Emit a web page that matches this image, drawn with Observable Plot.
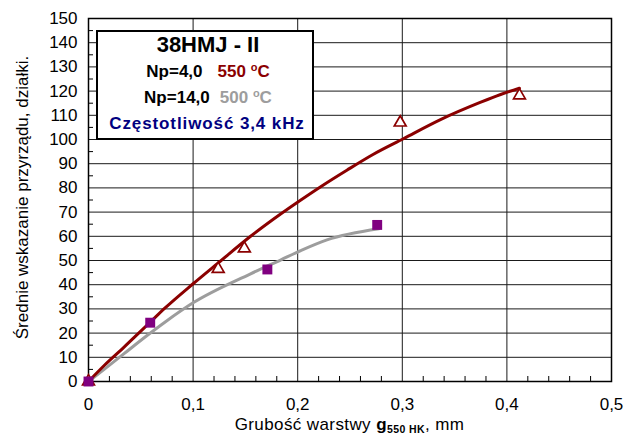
<!DOCTYPE html>
<html>
<head>
<meta charset="utf-8">
<script src="https://cdn.jsdelivr.net/npm/d3@7"></script>
<script src="https://cdn.jsdelivr.net/npm/@observablehq/plot@0.6"></script>
<style>
  body { margin: 0; background: #fff; }
  #chart svg { display: block; }
</style>
</head>
<body>
<div id="chart"></div>
<script>
// Axis ticks
const xTicks = [0, 0.1, 0.2, 0.3, 0.4, 0.5];
const yTicks = [0, 10, 20, 30, 40, 50, 60, 70, 80, 90, 100, 110, 120, 130, 140, 150];
const xMinor = [0.02, 0.04, 0.06, 0.08, 0.12, 0.14, 0.16, 0.18, 0.22, 0.24, 0.26, 0.28,
                0.32, 0.34, 0.36, 0.38, 0.42, 0.44, 0.46, 0.48];
const yMinor = [5, 15, 25, 35, 45, 55, 65, 75, 85, 95, 105, 115, 125, 135, 145];

// Measured curve, Np=4,0, 550 °C
const redX = [0, 0.015, 0.034, 0.05, 0.059, 0.073, 0.1, 0.124, 0.155, 0.184, 0.203,
              0.222, 0.247, 0.272, 0.301, 0.337, 0.375, 0.394, 0.412];
const redY = [0, 6.6, 14.2, 20.8, 24.5, 30.3, 40.4, 49, 60, 69.3, 75,
              80.5, 87.3, 93.8, 100.3, 108.3, 115.4, 118.6, 121.2];

// Measured curve, Np=14,0, 500 °C
const grayX = [0, 0.015, 0.034, 0.056, 0.073, 0.1, 0.155, 0.184, 0.203, 0.228, 0.2775];
const grayY = [0, 5, 11.5, 19, 24.5, 32.5, 44.5, 50.3, 54.1, 58.5, 63.1];

// Individual measurements
const triX = [0, 0.124, 0.149, 0.298, 0.412];
const triY = [0, 46.5, 55, 107, 118.2];
const sqX = [0, 0.059, 0.171, 0.276];
const sqY = [0, 24.3, 46.3, 64.7];

const RED = "#8b0000";
const GRAY = "#9d9d9d";
const PURPLE = "#800080";
const NAVY = "#000080";
const FONT = "'Liberation Sans', Arial, Helvetica, sans-serif";

const zip = (xs, ys) => xs.map((x, i) => ({x, y: ys[i]}));
const fmt = d => d === 0 ? "0" : String(d).replace(".", ",");

const chart = Plot.plot({
  width: 637,
  height: 435,
  marginLeft: 88,
  marginRight: 26,
  marginTop: 18,
  marginBottom: 54,
  style: {fontFamily: FONT, fontSize: "17px", background: "white", color: "black", overflow: "visible"},
  x: {domain: [0, 0.5]},
  y: {domain: [0, 150]},
  marks: [
    Plot.ruleX(xTicks.slice(1, -1), {stroke: "#1a1a1a", strokeWidth: 1}),
    Plot.ruleY(yTicks.slice(1, -1), {stroke: "#1a1a1a", strokeWidth: 1}),
    Plot.ruleX(xMinor, {x: d => d, y1: () => 0, y2: () => 0, insetTop: -5, stroke: "black"}),
    Plot.ruleY(yMinor, {y: d => d, x1: () => 0, x2: () => 0, insetRight: -5, stroke: "black"}),
    Plot.frame({stroke: "black", strokeWidth: 1.5}),
    Plot.axisX(xTicks, {tickSize: 0, tickPadding: 16, tickFormat: fmt, label: null, fontSize: 17}),
    Plot.axisY(yTicks, {tickSize: 0, tickPadding: 11, label: null, fontSize: 17}),
    Plot.line(zip(grayX, grayY), {x: "x", y: "y", stroke: GRAY, strokeWidth: 3, curve: "monotone-x"}),
    Plot.line(zip(redX, redY), {x: "x", y: "y", stroke: RED, strokeWidth: 3, curve: "monotone-x"}),
    Plot.dot(zip(triX, triY), {x: "x", y: "y", symbol: "triangle", r: 4.4, stroke: RED, strokeWidth: 1.7, fill: "white"}),
    Plot.dot(zip(sqX, sqY), {x: "x", y: "y", symbol: "square", r: 5.6, fill: PURPLE, stroke: "none"})
  ]
});

document.getElementById("chart").append(chart);

const svg = d3.select(chart);
const xs = chart.scale("x");
const ys = chart.scale("y");
const xMid = (xs.range[0] + xs.range[1]) / 2;
const yMid = (ys.range[0] + ys.range[1]) / 2;

// Axis titles
const xt = svg.append("text")
  .attr("x", xMid).attr("y", 430)
  .attr("text-anchor", "middle")
  .attr("font-family", FONT).attr("font-size", 17).attr("letter-spacing", 0.4).attr("fill", "black");
xt.append("tspan").text("Grubość warstwy ");
xt.append("tspan").attr("font-weight", "bold").text("g");
xt.append("tspan").attr("font-weight", "bold").attr("font-size", 10.5).attr("dy", 2.5).text("550 HK");
xt.append("tspan").attr("dy", -2.5).text(", mm");

svg.append("text")
  .attr("transform", `translate(28,${yMid - 2}) rotate(-90)`)
  .attr("text-anchor", "middle")
  .attr("font-family", FONT).attr("font-size", 17).attr("fill", "black")
  .text("Średnie wskazanie przyrządu, działki.");

// Legend box
const lg = svg.append("g").attr("font-family", FONT).attr("font-weight", "bold");
lg.append("rect")
  .attr("x", 97).attr("y", 31).attr("width", 216).attr("height", 108)
  .attr("fill", "white").attr("stroke", "black").attr("stroke-width", 2);
lg.append("text")
  .attr("x", 208).attr("y", 52).attr("text-anchor", "middle")
  .attr("font-size", 22).attr("fill", "black")
  .text("38HMJ - II");

const row2 = lg.append("text").attr("x", 208).attr("y", 77).attr("text-anchor", "middle").attr("font-size", 17);
row2.append("tspan").attr("fill", "black").text("Np=4,0");
row2.append("tspan").attr("dx", 15).attr("fill", RED).text("550 ");
row2.append("tspan").attr("fill", RED).attr("font-size", 11).attr("dy", -6).text("o");
row2.append("tspan").attr("fill", RED).attr("dy", 6).text("C");

const row3 = lg.append("text").attr("x", 208).attr("y", 103).attr("text-anchor", "middle").attr("font-size", 17);
row3.append("tspan").attr("fill", "black").text("Np=14,0");
row3.append("tspan").attr("dx", 10).attr("fill", GRAY).text("500 ");
row3.append("tspan").attr("fill", GRAY).attr("font-size", 11).attr("dy", -6).text("o");
row3.append("tspan").attr("fill", GRAY).attr("dy", 6).text("C");

lg.append("text")
  .attr("x", 207).attr("y", 129).attr("text-anchor", "middle")
  .attr("font-size", 17).attr("letter-spacing", 0.9).attr("fill", NAVY)
  .text("Częstotliwość 3,4 kHz");
</script>
</body>
</html>
